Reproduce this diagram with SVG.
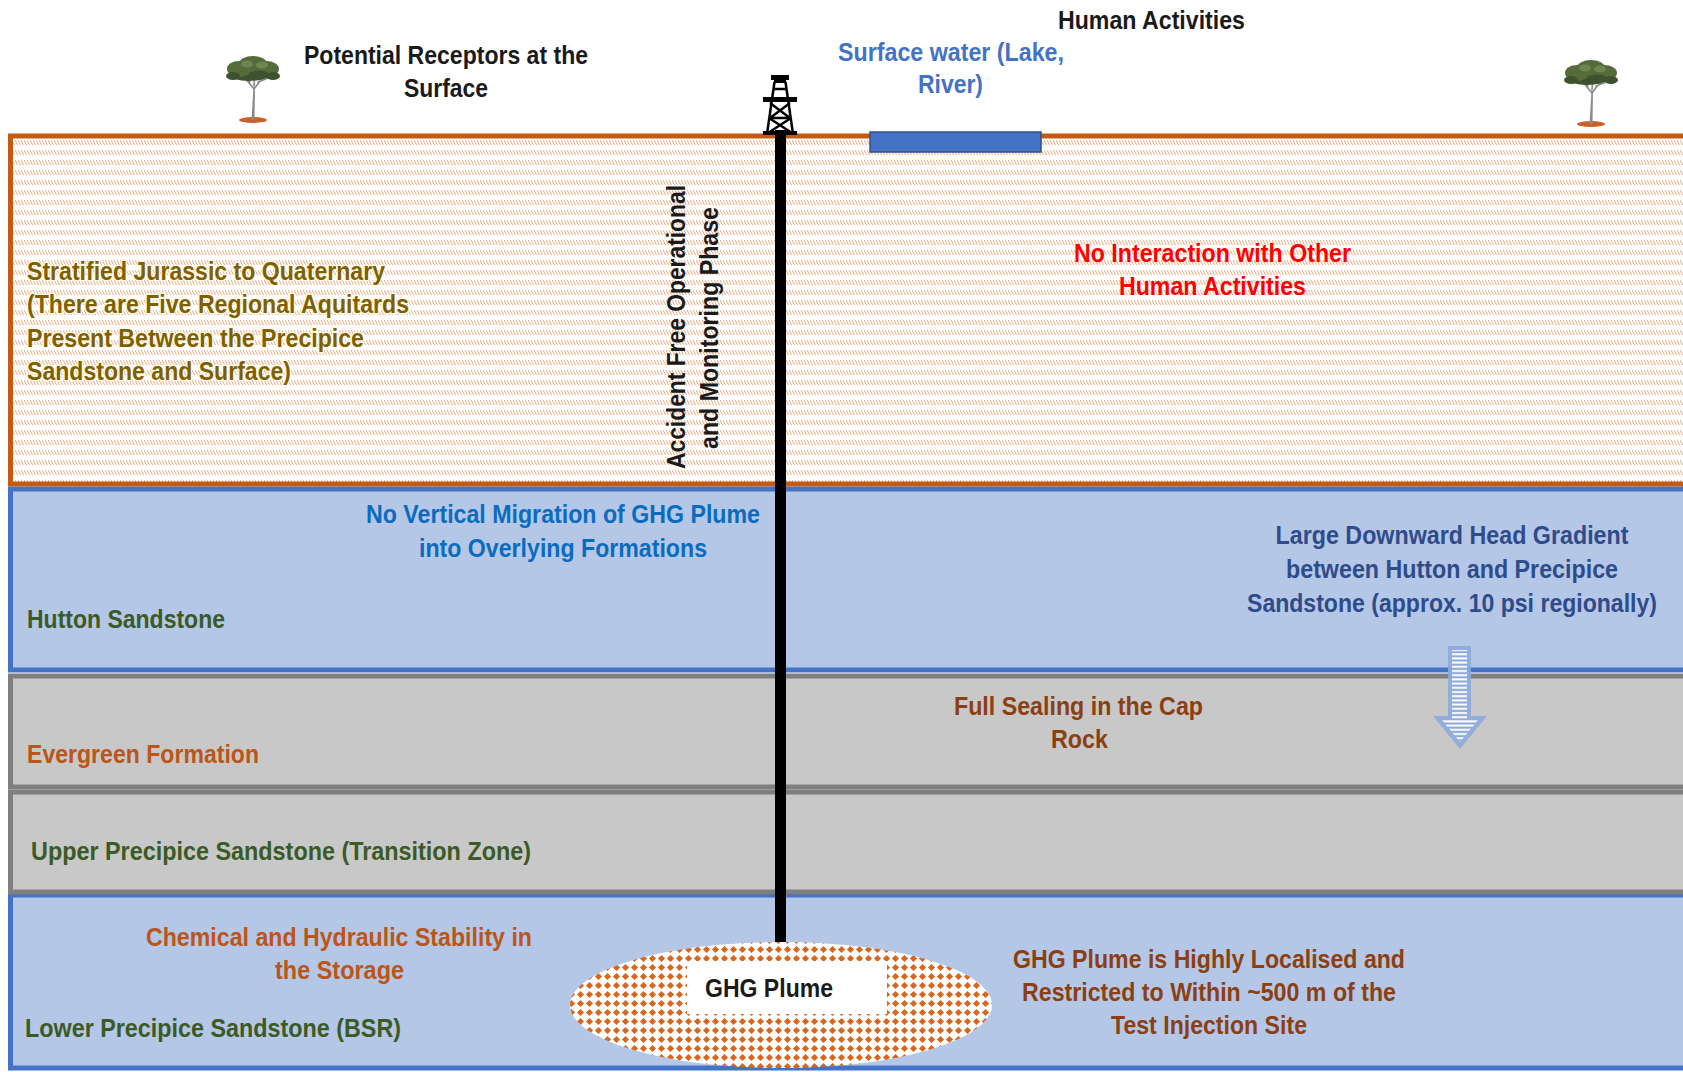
<svg xmlns="http://www.w3.org/2000/svg" width="1683" height="1072" viewBox="0 0 1683 1072">
  <style>
    .t { font-family: "Liberation Sans Narrow", "Liberation Sans", Arial, sans-serif; font-weight: bold; font-size: 26px; }
    .mid { text-anchor: middle; }
    .black { fill: #1a1a1a; }
    .water { fill: #4472c4; }
    .olive { fill: #7f6000; stroke: #fffbe8; stroke-width: 2.5; paint-order: stroke; }
    .red { fill: #ff0000; }
    .cyanblue { fill: #0b6cbf; }
    .green { fill: #3b5a25; }
    .slate { fill: #2f4b8a; }
    .brown { fill: #8b3f12; }
    .rust { fill: #bb5519; }
    .tree-crown { fill: #556b3a; }
    .tree-crown-dark { fill: #3f5230; }
    .tree-crown-light { fill: #6f8550; }
    .tree-trunk { stroke: #8a8a8a; stroke-width: 1.6; fill: none; stroke-linecap: round; }
    .derrick { stroke: #000; stroke-width: 2.5; fill: none; }
  </style>
  <defs>
    <!-- banded diagonal hatching of the overburden -->
    <pattern id="hatch" patternUnits="userSpaceOnUse" x="0" y="139" width="3" height="10">
      <line x1="0" y1="1" x2="2.6" y2="6" stroke="#ea9c6c" stroke-width="0.9"/>
    </pattern>
    <!-- diamond dot fill of the plume -->
    <pattern id="dots" patternUnits="userSpaceOnUse" x="0" y="0" width="9" height="9">
      <rect width="9" height="9" fill="#ffffff"/>
      <polygon points="4.5,0.9 8.1,4.5 4.5,8.1 0.9,4.5" fill="#d8661d"/>
    </pattern>
    <!-- horizontal stripes inside the head-gradient arrow -->
    <pattern id="stripes" patternUnits="userSpaceOnUse" x="0" y="648" width="10" height="4.2">
      <rect width="10" height="4.2" fill="#8eaadb"/>
      <rect y="1" width="10" height="2" fill="#ffffff"/>
    </pattern>
    <g id="tree">
      <ellipse cx="0" cy="0" rx="14" ry="3" fill="#c8622a"/>
      <path d="M-1.5,0 L0.5,-33 L2,-33 L1.5,0 Z" fill="#8a8a8a"/>
      <path class="tree-trunk" d="M1,-31 L-9,-43 M1,-31 L11,-44 M1,-34 L2,-49 M-3,-38 L-15,-44 M5,-38 L18,-43"/>
      <ellipse class="tree-crown-dark" cx="-4" cy="-45" rx="19" ry="6"/>
      <ellipse class="tree-crown" cx="-14" cy="-51" rx="12" ry="8"/>
      <ellipse class="tree-crown" cx="0" cy="-56" rx="14" ry="8"/>
      <ellipse class="tree-crown" cx="13" cy="-51" rx="13" ry="8"/>
      <ellipse class="tree-crown-light" cx="-6" cy="-56" rx="6" ry="3.5"/>
      <ellipse class="tree-crown-light" cx="9" cy="-55" rx="6" ry="3.5"/>
      <ellipse class="tree-crown-dark" cx="-20" cy="-44" rx="7" ry="4"/>
      <ellipse class="tree-crown-dark" cx="20" cy="-44" rx="7" ry="4"/>
      <ellipse class="tree-crown-dark" cx="6" cy="-45" rx="10" ry="4.5"/>
    </g>
  </defs>

  <rect width="1683" height="1072" fill="#ffffff"/>

  <!-- geological layers -->
  <g id="overburden">
    <rect x="10.5" y="136" width="1700" height="348" fill="#ffffff"/>
    <rect x="10.5" y="136" width="1700" height="348" fill="url(#hatch)" stroke="#c55a11" stroke-width="5"/>
  </g>
  <g id="hutton-sandstone">
    <rect x="10.5" y="489" width="1700" height="181" fill="#b4c7e7" stroke="#4472c4" stroke-width="5"/>
  </g>
  <g id="lower-precipice-sandstone">
    <rect x="10.5" y="895" width="1700" height="173" fill="#b4c7e7" stroke="#4472c4" stroke-width="5"/>
  </g>
  <g id="evergreen-formation">
    <rect x="10.5" y="676" width="1700" height="111" fill="#c8c8c8" stroke="#7f7f7f" stroke-width="5"/>
  </g>
  <g id="upper-precipice-sandstone">
    <rect x="10.5" y="792" width="1700" height="100" fill="#c8c8c8" stroke="#7f7f7f" stroke-width="5"/>
  </g>

  <!-- surface features -->
  <g id="surface-water">
    <rect x="870" y="132" width="171" height="20" fill="#4472c4" stroke="#2f528f" stroke-width="1.5"/>
  </g>
  <g id="tree-left"><use href="#tree" transform="translate(253,120)"/></g>
  <g id="tree-right"><use href="#tree" transform="translate(1591,124)"/></g>

  <!-- injection well and derrick -->
  <g id="injection-well">
    <rect x="775" y="130" width="11" height="815" fill="#000000"/>
  </g>
  <g id="derrick">
    <rect x="771" y="75" width="18" height="5" fill="#000"/>
    <rect x="774" y="80" width="12" height="3" fill="#000"/>
    <line class="derrick" x1="774.5" y1="82" x2="767" y2="134"/>
    <line class="derrick" x1="785.5" y1="82" x2="793" y2="134"/>
    <line class="derrick" x1="773" y1="89" x2="787" y2="89"/>
    <rect x="763" y="97" width="34" height="5" fill="#000"/>
    <line class="derrick" x1="770" y1="103" x2="790" y2="118"/>
    <line class="derrick" x1="790" y1="103" x2="770" y2="118"/>
    <line class="derrick" x1="769" y1="118" x2="791" y2="118"/>
    <line class="derrick" x1="769" y1="118" x2="792" y2="133"/>
    <line class="derrick" x1="791" y1="118" x2="768" y2="133"/>
    <rect x="763" y="131" width="34" height="4" fill="#000"/>
  </g>

  <!-- GHG plume -->
  <g id="ghg-plume">
    <ellipse cx="781" cy="1005" rx="211" ry="63" fill="url(#dots)"/>
    <rect x="687" y="961" width="200" height="53" fill="#ffffff"/>
    <text class="t mid black" x="769" y="997" textLength="128" lengthAdjust="spacingAndGlyphs">GHG Plume</text>
  </g>

  <!-- downward head gradient arrow -->
  <g id="gradient-arrow">
    <polygon points="1448,646 1471,646 1471,716 1487,716 1460,749 1433,716 1448,716" fill="#8eaadb" opacity="0.9"/>
    <polygon points="1452,650 1467,650 1467,720 1478,720 1460,742 1442,720 1452,720" fill="url(#stripes)"/>
  </g>

  <!-- labels -->
  <g id="label-human-activities">
    <text class="t black" x="1058" y="29" textLength="187" lengthAdjust="spacingAndGlyphs">Human Activities</text>
  </g>
  <g id="label-receptors">
    <text class="t mid black" x="446" y="64" textLength="284" lengthAdjust="spacingAndGlyphs">Potential Receptors at the</text>
    <text class="t mid black" x="446" y="97" textLength="84" lengthAdjust="spacingAndGlyphs">Surface</text>
  </g>
  <g id="label-surface-water">
    <text class="t mid water" x="951" y="61" textLength="226" lengthAdjust="spacingAndGlyphs">Surface water (Lake,</text>
    <text class="t mid water" x="950.5" y="93" textLength="65" lengthAdjust="spacingAndGlyphs">River)</text>
  </g>
  <g id="label-stratified">
    <text class="t olive" x="27" y="280" textLength="358" lengthAdjust="spacingAndGlyphs">Stratified Jurassic to Quaternary</text>
    <text class="t olive" x="27" y="313" textLength="382" lengthAdjust="spacingAndGlyphs">(There are Five Regional Aquitards</text>
    <text class="t olive" x="27" y="347" textLength="337" lengthAdjust="spacingAndGlyphs">Present Between the Precipice</text>
    <text class="t olive" x="27" y="380" textLength="264" lengthAdjust="spacingAndGlyphs">Sandstone and Surface)</text>
  </g>
  <g id="label-operational-phase">
    <text class="t mid black" transform="translate(685,327) rotate(-90)" textLength="284" lengthAdjust="spacingAndGlyphs">Accident Free Operational</text>
    <text class="t mid black" transform="translate(718,328) rotate(-90)" textLength="242" lengthAdjust="spacingAndGlyphs">and Monitoring Phase</text>
  </g>
  <g id="label-no-interaction">
    <text class="t mid red" x="1212.5" y="262" textLength="277" lengthAdjust="spacingAndGlyphs">No Interaction with Other</text>
    <text class="t mid red" x="1212.5" y="295" textLength="187" lengthAdjust="spacingAndGlyphs">Human Activities</text>
  </g>
  <g id="label-no-vertical-migration">
    <text class="t mid cyanblue" x="563" y="523" textLength="394" lengthAdjust="spacingAndGlyphs">No Vertical Migration of GHG Plume</text>
    <text class="t mid cyanblue" x="563" y="557" textLength="288" lengthAdjust="spacingAndGlyphs">into Overlying Formations</text>
  </g>
  <g id="label-hutton">
    <text class="t green" x="27" y="628" textLength="198" lengthAdjust="spacingAndGlyphs">Hutton Sandstone</text>
  </g>
  <g id="label-head-gradient">
    <text class="t mid slate" x="1452" y="544" textLength="353" lengthAdjust="spacingAndGlyphs">Large Downward Head Gradient</text>
    <text class="t mid slate" x="1452" y="578" textLength="332" lengthAdjust="spacingAndGlyphs">between Hutton and Precipice</text>
    <text class="t mid slate" x="1452" y="612" textLength="410" lengthAdjust="spacingAndGlyphs">Sandstone (approx. 10 psi regionally)</text>
  </g>
  <g id="label-full-sealing">
    <text class="t mid brown" x="1078.5" y="715" textLength="249" lengthAdjust="spacingAndGlyphs">Full Sealing in the Cap</text>
    <text class="t mid brown" x="1079.5" y="748" textLength="57" lengthAdjust="spacingAndGlyphs">Rock</text>
  </g>
  <g id="label-evergreen">
    <text class="t rust" x="27" y="763" textLength="232" lengthAdjust="spacingAndGlyphs">Evergreen Formation</text>
  </g>
  <g id="label-upper-precipice">
    <text class="t green" x="31" y="860" textLength="500" lengthAdjust="spacingAndGlyphs">Upper Precipice Sandstone (Transition Zone)</text>
  </g>
  <g id="label-stability">
    <text class="t mid rust" x="339" y="946" textLength="386" lengthAdjust="spacingAndGlyphs">Chemical and Hydraulic Stability in</text>
    <text class="t mid rust" x="339.5" y="979" textLength="129" lengthAdjust="spacingAndGlyphs">the Storage</text>
  </g>
  <g id="label-lower-precipice">
    <text class="t green" x="25" y="1037" textLength="376" lengthAdjust="spacingAndGlyphs">Lower Precipice Sandstone (BSR)</text>
  </g>
  <g id="label-plume-extent">
    <text class="t mid brown" x="1209" y="968" textLength="392" lengthAdjust="spacingAndGlyphs">GHG Plume is Highly Localised and</text>
    <text class="t mid brown" x="1209" y="1001" textLength="374" lengthAdjust="spacingAndGlyphs">Restricted to Within ~500 m of the</text>
    <text class="t mid brown" x="1209" y="1034" textLength="196" lengthAdjust="spacingAndGlyphs">Test Injection Site</text>
  </g>

  <!-- no connectors in this section view -->
  <g id="connectors"/>
</svg>
